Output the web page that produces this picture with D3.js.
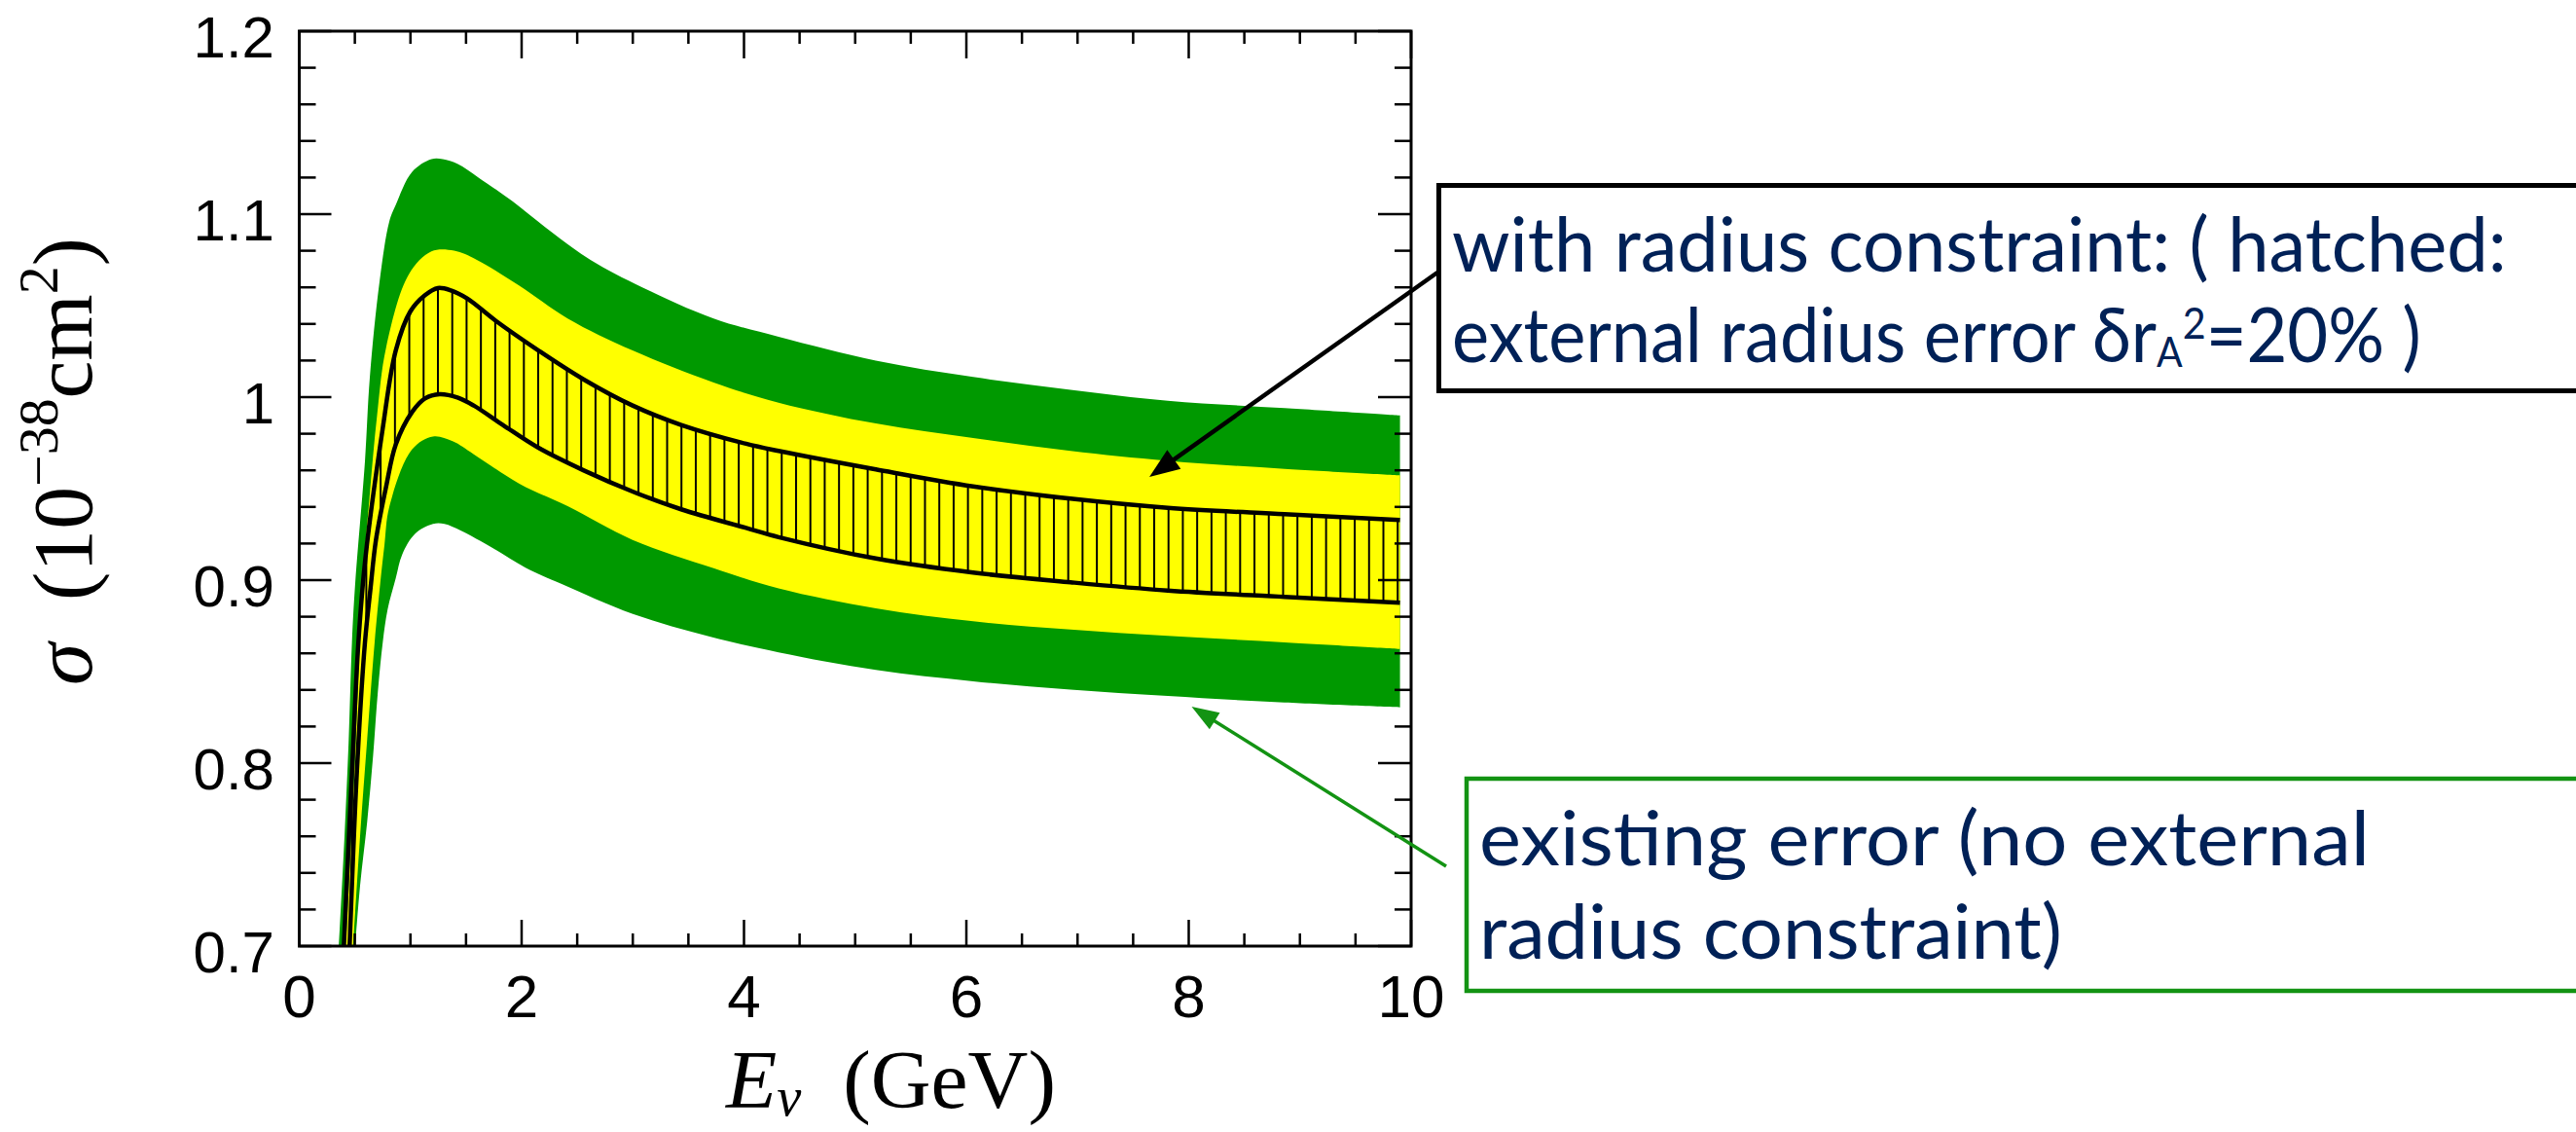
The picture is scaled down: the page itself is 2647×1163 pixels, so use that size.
<!DOCTYPE html>
<html>
<head>
<meta charset="utf-8">
<script src="https://cdn.jsdelivr.net/npm/d3@7"></script>
<style>
  html, body { margin: 0; padding: 0; background: #fff; }
  svg { display: block; }
</style>
</head>
<body>
<script>
// Quasi-elastic cross section sigma(E_nu) with uncertainty bands.
// Each curve is a list of [E_nu (GeV), sigma (1e-38 cm^2)] points.

// existing error band (no external radius constraint): upper / lower edges
const greenUpper = [
  [0.357, 0.70], [0.407, 0.76], [0.445, 0.813], [0.474, 0.866], [0.503, 0.898],
  [0.591, 0.965], [0.635, 1.011], [0.722, 1.063], [0.81, 1.096], [0.868, 1.105],
  [1.014, 1.123], [1.189, 1.130], [1.291, 1.130], [1.422, 1.1275], [1.612, 1.120],
  [1.918, 1.107], [2.21, 1.093], [2.619, 1.075], [3.085, 1.060], [3.727, 1.043],
  [4.311, 1.033], [5.186, 1.020], [6.061, 1.011], [6.937, 1.004], [7.812, 0.998],
  [8.862, 0.994], [9.9, 0.990]
];
const greenLower = [
  [0.503, 0.70], [0.547, 0.733], [0.611, 0.768], [0.664, 0.804], [0.707, 0.839],
  [0.751, 0.866], [0.795, 0.884], [0.868, 0.901], [0.926, 0.914], [1.043, 0.9254],
  [1.203, 0.9307], [1.306, 0.9307], [1.451, 0.9271], [1.743, 0.9174], [2.035, 0.9068],
  [2.356, 0.898], [3.0, 0.8815], [3.7, 0.869], [4.311, 0.8605], [5.186, 0.8509],
  [6.061, 0.8447], [6.937, 0.8402], [7.812, 0.8367], [8.862, 0.8331], [9.9, 0.8305]
];

// with radius constraint: upper / lower edges
const yellowUpper = [
  [0.42, 0.70], [0.50, 0.80], [0.57, 0.898], [0.635, 0.9475], [0.70, 0.99],
  [0.781, 1.027], [0.985, 1.067], [1.189, 1.0796], [1.393, 1.080], [1.597, 1.075],
  [1.976, 1.061], [2.414, 1.043], [2.998, 1.0255], [3.727, 1.008], [4.311, 0.997],
  [5.186, 0.9856], [6.061, 0.9777], [6.937, 0.9706], [7.812, 0.9652], [8.862, 0.9608],
  [9.9, 0.9573]
];
const yellowLower = [
  [0.485, 0.70], [0.547, 0.76], [0.611, 0.813], [0.678, 0.866], [0.728, 0.898],
  [0.766, 0.919], [0.81, 0.940], [1.014, 0.9714], [1.203, 0.9785], [1.379, 0.9759],
  [1.569, 0.9688], [1.976, 0.9528], [2.414, 0.9404], [2.998, 0.922], [3.727, 0.9065],
  [4.311, 0.8955], [5.186, 0.8846], [6.061, 0.8775], [6.937, 0.873], [7.812, 0.8695],
  [8.862, 0.866], [9.9, 0.8624]
];

// hatched: external radius error 20%, upper / lower edges
const hatchUpper = [
  [0.401, 0.70], [0.474, 0.795], [0.532, 0.866], [0.595, 0.912], [0.751, 0.983],
  [0.868, 1.0255], [0.999, 1.0468], [1.131, 1.0557], [1.247, 1.0596], [1.364, 1.0583],
  [1.510, 1.0539], [1.772, 1.0415], [2.151, 1.0255], [2.560, 1.0096], [2.998, 0.9954],
  [3.435, 0.9848], [4.019, 0.9745], [4.311, 0.9706], [5.186, 0.9605], [6.061, 0.9512],
  [6.937, 0.9445], [7.812, 0.9395], [8.862, 0.936], [9.9, 0.9328]
];
const hatchLower = [
  [0.453, 0.70], [0.518, 0.795], [0.591, 0.866], [0.64, 0.895], [0.69, 0.922],
  [0.781, 0.951], [0.868, 0.9741], [1.014, 0.9918], [1.131, 0.9993], [1.262, 1.0016],
  [1.422, 0.9998], [1.569, 0.9954], [1.831, 0.9848], [2.151, 0.9723], [2.560, 0.9599],
  [2.998, 0.9484], [3.435, 0.9387], [4.019, 0.9285], [4.311, 0.9235], [5.186, 0.9118],
  [6.061, 0.9041], [6.937, 0.8988], [7.812, 0.8943], [8.862, 0.8908], [9.9, 0.8876]
];

// axes
const xDomain = [0, 10];
const yDomain = [0.7, 1.2];
const xMajorTicks = [0, 2, 4, 6, 8, 10];
const xTickLabels = ["0", "2", "4", "6", "8", "10"];
const yMajorTicks = [0.7, 0.8, 0.9, 1.0, 1.1, 1.2];
const yTickLabels = ["0.7", "0.8", "0.9", "1", "1.1", "1.2"];

// annotation arrow targets [E_nu, sigma]
const radiusArrowTip = [7.646, 0.9564];
const existingArrowTip = [8.026, 0.8309];

// ---------------------------------------------------------------
const W = 2647, H = 1163;
const plot = { left: 307.5, right: 1450, top: 32, bottom: 972 };
const GREEN = "#009900", YELLOW = "#ffff00", NAVY = "#002157", BOXGREEN = "#139313";

const x = d3.scaleLinear().domain(xDomain).range([plot.left, plot.right]);
const y = d3.scaleLinear().domain(yDomain).range([plot.bottom, plot.top]);

const svg = d3.select("body").append("svg")
  .attr("width", W).attr("height", H)
  .attr("viewBox", `0 0 ${W} ${H}`);
svg.append("rect").attr("width", W).attr("height", H).attr("fill", "#fff");

const defs = svg.append("defs");
defs.append("clipPath").attr("id", "plotClip")
  .append("rect")
  .attr("x", plot.left).attr("y", plot.top)
  .attr("width", plot.right - plot.left).attr("height", plot.bottom - plot.top);

const hatch = defs.append("pattern").attr("id", "vhatch")
  .attr("patternUnits", "userSpaceOnUse")
  .attr("x", 7.4).attr("y", 0).attr("width", 14.72).attr("height", 40);
hatch.append("line").attr("x1", 1).attr("x2", 1).attr("y1", 0).attr("y2", 40)
  .attr("stroke", "#000").attr("stroke-width", 2);

// smooth edges through the read points
const line = d3.line().x(d => x(d[0])).y(d => y(d[1])).curve(d3.curveCatmullRom.alpha(0.5));
const band = (up, lo) => line(up) + line(lo.slice().reverse()).replace(/^M/, "L") + "Z";

const bands = svg.append("g").attr("clip-path", "url(#plotClip)");
bands.append("path").attr("d", band(greenUpper, greenLower)).attr("fill", GREEN);
bands.append("path").attr("d", band(yellowUpper, yellowLower)).attr("fill", YELLOW);
bands.append("path").attr("d", band(hatchUpper, hatchLower)).attr("fill", "url(#vhatch)");
[hatchUpper, hatchLower].forEach(c => {
  bands.append("path").attr("d", line(c))
    .attr("fill", "none").attr("stroke", "#000")
    .attr("stroke-width", 4.5).attr("stroke-linejoin", "round");
});

// ---------------------------------------------------------------
// frame and ticks
const stepTicks = (lo, hi, step) =>
  d3.range(Math.round(lo / step), Math.round(hi / step) + 1).map(i => +(i * step).toFixed(4));
const xMinor = stepTicks(0, 10, 0.5).filter(v => !xMajorTicks.includes(v));
const yMinor = stepTicks(0.7, 1.2, 0.02).filter(v => !yMajorTicks.some(m => Math.abs(m - v) < 1e-6));

function styleAxis(g) {
  g.select(".domain").remove();
  g.selectAll(".tick line").attr("stroke", "#000").attr("stroke-width", 2.5);
  g.selectAll("text").attr("fill", "#000")
    .attr("font-family", "'Liberation Sans', Arial, Helvetica, sans-serif");
  g.attr("font-size", null).attr("font-family", null);
}

const axes = svg.append("g");
// bottom
axes.append("g").attr("transform", `translate(0,${plot.bottom})`)
  .call(d3.axisBottom(x).tickValues(xMajorTicks).tickSize(-27).tickPadding(29).offset(0)
    .tickFormat((d, i) => xTickLabels[i]))
  .call(styleAxis)
  .selectAll("text").attr("font-size", 62);
axes.append("g").attr("transform", `translate(0,${plot.bottom})`)
  .call(d3.axisBottom(x).tickValues(xMinor).tickSize(-13).tickFormat("").offset(0))
  .call(styleAxis);
// top
axes.append("g").attr("transform", `translate(0,${plot.top})`)
  .call(d3.axisTop(x).tickValues(xMajorTicks).tickSize(-28).tickFormat("").offset(0))
  .call(styleAxis);
axes.append("g").attr("transform", `translate(0,${plot.top})`)
  .call(d3.axisTop(x).tickValues(xMinor).tickSize(-13).tickFormat("").offset(0))
  .call(styleAxis);
// left
axes.append("g").attr("transform", `translate(${plot.left},0)`)
  .call(d3.axisLeft(y).tickValues(yMajorTicks).tickSize(-33).tickPadding(25.5).offset(0)
    .tickFormat((d, i) => yTickLabels[i]))
  .call(styleAxis)
  .selectAll("text").attr("font-size", 60).attr("dy", "0.45em");
axes.append("g").attr("transform", `translate(${plot.left},0)`)
  .call(d3.axisLeft(y).tickValues(yMinor).tickSize(-17).tickFormat("").offset(0))
  .call(styleAxis);
// right
axes.append("g").attr("transform", `translate(${plot.right},0)`)
  .call(d3.axisRight(y).tickValues(yMajorTicks).tickSize(-34).tickFormat("").offset(0))
  .call(styleAxis);
axes.append("g").attr("transform", `translate(${plot.right},0)`)
  .call(d3.axisRight(y).tickValues(yMinor).tickSize(-17).tickFormat("").offset(0))
  .call(styleAxis);

axes.append("rect")
  .attr("x", plot.left).attr("y", plot.top)
  .attr("width", plot.right - plot.left).attr("height", plot.bottom - plot.top)
  .attr("fill", "none").attr("stroke", "#000").attr("stroke-width", 3);

// ---------------------------------------------------------------
const SERIF = "'Liberation Serif', 'Times New Roman', serif";

// axis titles: built at a trial size, then rebuilt at the size that gives the wanted length
function sizedTitle(parent, build, trial, target) {
  let t = build(parent, trial);
  const len = t.node().getComputedTextLength();
  t.remove();
  return build(parent, trial * target / len);
}

function buildXTitle(parent, fs) {
  const t = parent.append("text").attr("x", 746).attr("y", 1138)
    .attr("font-family", SERIF).attr("font-size", fs).attr("fill", "#000");
  t.append("tspan").attr("font-style", "italic").text("E");
  t.append("tspan").attr("font-style", "italic").attr("font-size", fs * 0.66)
    .attr("dy", fs * 0.09).text("ν");
  t.append("tspan").attr("dy", -fs * 0.09).text("\u2002(GeV)");
  return t;
}
sizedTitle(svg, buildXTitle, 88, 339);

const ytg = svg.append("g").attr("transform", "translate(94,704) rotate(-90)");
function buildYTitle(parent, fs) {
  const t = parent.append("text").attr("x", 0).attr("y", 0)
    .attr("font-family", SERIF).attr("font-size", fs).attr("fill", "#000");
  const up = fs * 0.4;
  t.append("tspan").attr("font-style", "italic").text("σ");
  t.append("tspan").text("\u2002(10");
  t.append("tspan").attr("font-size", fs * 0.66).attr("dy", -up).text("−38");
  t.append("tspan").attr("dy", up).text("cm");
  t.append("tspan").attr("font-size", fs * 0.66).attr("dy", -up).text("2");
  t.append("tspan").attr("dy", up).text(")");
  return t;
}
sizedTitle(ytg, buildYTitle, 80, 460);

// ---------------------------------------------------------------
// stretch a text element horizontally so it spans `target` pixels from x0
function fitWidth(sel, x0, target) {
  const w = sel.node().getComputedTextLength();
  const s = target / w;
  sel.attr("transform", `translate(${x0},0) scale(${s},1) translate(${-x0},0)`);
}

// annotation boxes
const SANS = "Lato, 'Open Sans', 'DejaVu Sans', sans-serif";
const ann = svg.append("g");

ann.append("rect").attr("x", 1478.5).attr("y", 190.5).attr("width", 1300).attr("height", 211)
  .attr("fill", "#fff").attr("stroke", "#000").attr("stroke-width", 5);
const l1 = ann.append("text").attr("x", 1492).attr("y", 279)
  .attr("font-family", SANS).attr("font-size", 77).attr("fill", NAVY)
  .text("with radius constraint: ( hatched:");
fitWidth(l1, 1492, 1084);
const l2 = ann.append("text").attr("x", 1492).attr("y", 372)
  .attr("font-family", SANS).attr("font-size", 77).attr("fill", NAVY);
l2.append("tspan").text("external radius error δr");
l2.append("tspan").attr("font-size", 42).attr("dy", 5).text("A");
l2.append("tspan").attr("font-size", 44).attr("dy", -29).text("2");
l2.append("tspan").attr("dy", 24).text("=20% )");
fitWidth(l2, 1492, 996);

ann.append("rect").attr("x", 1507).attr("y", 800).attr("width", 1300).attr("height", 218)
  .attr("fill", "#fff").attr("stroke", BOXGREEN).attr("stroke-width", 4.5);
const g1 = ann.append("text").attr("x", 1520).attr("y", 889)
  .attr("font-family", SANS).attr("font-size", 77).attr("fill", NAVY)
  .text("existing error (no external");
fitWidth(g1, 1520, 915);
const g2 = ann.append("text").attr("x", 1520).attr("y", 985)
  .attr("font-family", SANS).attr("font-size", 77).attr("fill", NAVY)
  .text("radius constraint)");
fitWidth(g2, 1520, 599);

// arrows: shaft from the box edge to the tip, with a filled triangular head
function arrow(from, tipData, color, width, headLen, headHalf) {
  const tx = x(tipData[0]), ty = y(tipData[1]);
  const dx = tx - from[0], dy = ty - from[1];
  const L = Math.hypot(dx, dy), ux = dx / L, uy = dy / L;
  const bx = tx - ux * headLen, by = ty - uy * headLen;
  ann.append("line")
    .attr("x1", from[0]).attr("y1", from[1])
    .attr("x2", bx + ux * 4).attr("y2", by + uy * 4)
    .attr("stroke", color).attr("stroke-width", width);
  ann.append("path")
    .attr("d", `M${tx},${ty}L${bx - uy * headHalf},${by + ux * headHalf}L${bx + uy * headHalf},${by - ux * headHalf}Z`)
    .attr("fill", color);
}
arrow([1477, 280], radiusArrowTip, "#000", 4.5, 31, 12);
arrow([1486, 890], existingArrowTip, BOXGREEN, 3.5, 28, 10);
</script>
</body>
</html>
